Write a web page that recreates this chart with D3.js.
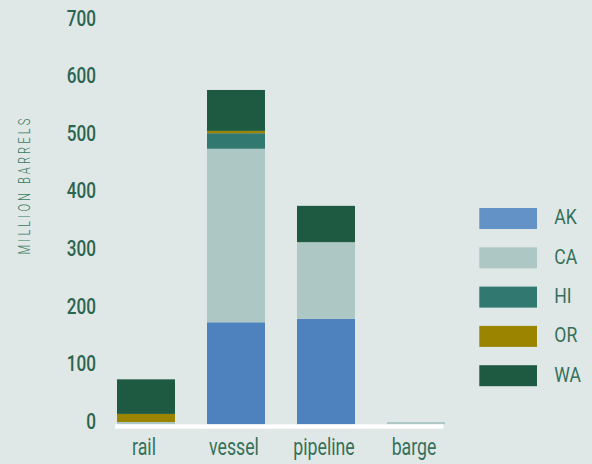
<!DOCTYPE html>
<html>
<head>
<meta charset="utf-8">
<script src="https://cdn.jsdelivr.net/npm/d3@7"></script>
<style>
  html, body { margin: 0; padding: 0; background: #dfe8e6; }
  svg { display: block; font-family: Roboto, "Noto Sans", sans-serif; }
</style>
</head>
<body>
<svg id="chart" width="592" height="464"></svg>
<script>
// Shipments by mode of transport, million barrels, stacked by state
const modes = ["rail", "vessel", "pipeline", "barge"];
const states = ["AK", "CA", "HI", "OR", "WA"];
const AK = [0, 177, 183, 0];
const CA = [4, 301, 133, 4];
const HI = [0, 27, 0, 0];
const OR = [14, 4, 0, 0];
const WA = [60, 71, 63, 0];
const yTicks = [0, 100, 200, 300, 400, 500, 600, 700];
const colors = ["#4e82bf", "#adc8c4", "#317870", "#9b8400", "#1e5a42"];

const seriesValues = { AK, CA, HI, OR, WA };
const rows = modes.map((m, i) => {
  const r = { mode: m };
  states.forEach(s => { r[s] = seriesValues[s][i]; });
  return r;
});

const svg = d3.select("#chart");
const textColor = "#2b6450";

const x = d3.scaleBand()
  .domain(modes)
  .range([101, 461])
  .paddingInner(0.3556)
  .paddingOuter(0.1778);

const y = d3.scaleLinear()
  .domain([0, 700])
  .range([424.3, 20.8]);

const color = d3.scaleOrdinal().domain(states).range(colors);

const stacked = d3.stack().keys(states)(rows);

// stacked bars
svg.append("g")
  .selectAll("g")
  .data(stacked)
  .join("g")
  .attr("fill", d => color(d.key))
  .selectAll("rect")
  .data(d => d)
  .join("rect")
  .attr("x", d => x(d.data.mode))
  .attr("width", x.bandwidth())
  .attr("y", d => y(d[1]))
  .attr("height", d => Math.max(0, y(d[0]) - y(d[1])));

// white baseline
svg.append("rect")
  .attr("x", 115)
  .attr("y", y(0))
  .attr("width", 328.5)
  .attr("height", 4.4)
  .attr("fill", "#ffffff");

// y tick labels
svg.append("g")
  .selectAll("text")
  .data(yTicks)
  .join("text")
  .attr("transform", d => `translate(96,${y(d) + 4.7}) scale(0.78,1)`)
  .attr("text-anchor", "end")
  .attr("font-size", 22)
  .attr("font-weight", 500)
  .attr("fill", textColor)
  .text(d => d);

// y axis title
svg.append("text")
  .attr("transform", "translate(29.5,185) rotate(-90) scale(0.7,1)")
  .attr("text-anchor", "middle")
  .attr("font-size", 16)
  .attr("font-weight", 300)
  .attr("letter-spacing", 4.4)
  .attr("fill", "#3a7a5e")
  .text("MILLION BARRELS");

// category labels
svg.append("g")
  .selectAll("text")
  .data(modes)
  .join("text")
  .attr("transform", d => `translate(${x(d) + x.bandwidth() / 2 - 2},455) scale(0.77,1)`)
  .attr("text-anchor", "middle")
  .attr("font-size", 23)
  .attr("fill", "#35705a")
  .text(d => d);

// legend
const legend = svg.append("g")
  .selectAll("g")
  .data(states)
  .join("g")
  .attr("transform", (d, i) => `translate(479.3,${208 + i * 39.3})`);

legend.append("rect")
  .attr("width", 57.7)
  .attr("height", 21)
  .attr("fill", d => color(d))
  .attr("fill-opacity", d => d === "AK" ? 0.85 : 1);

legend.append("text")
  .attr("transform", "translate(75,16.3) scale(0.88,1)")
  .attr("font-size", 20)
  .attr("fill", "#35705a")
  .text(d => d);
</script>
</body>
</html>
